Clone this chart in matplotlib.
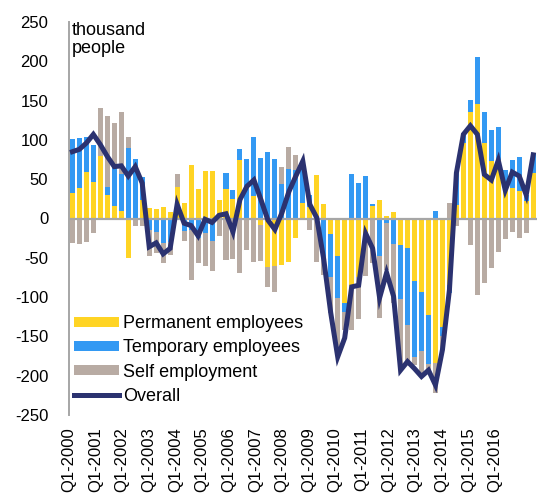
import matplotlib
matplotlib.use("Agg")
import matplotlib.pyplot as plt
import numpy as np
from matplotlib.patches import Patch
from matplotlib.lines import Line2D

plt.rcParams['font.family'] = ['Liberation Sans', 'DejaVu Sans']
plt.rcParams['axes.unicode_minus'] = False

# Quarterly data Q1-2000 .. Q3-2016 (thousand people)
quarters = [f"Q{q}-{y}" for y in range(2000, 2017) for q in range(1, 5)][:67]

permanent = [32, 39, 59, 46, 79, 30, 16, 9, -50, 0, 24, 13, 12, 14, 8, 40,
             20, 68, 37, 61, 61, 24, 37, 25, 75, 0, 28, -8, -62, -61, -59, -55,
             -25, 20, 15, 55, 19, -20, -48, -108, -87, -74, -20, 16, 24, 3, 8, -34,
             -38, -80, -93, -123, -184, -138, -85, 17, 96, 135, 146, 96, 73, 75, 39,
             39, 35, 22, 58]
temporary = [69, 64, 45, 48, 0, 10, 48, 47, 90, 76, 29, -14, -17, -31, -30, 0,
             -16, -14, -25, -19, -29, 0, 21, 11, 13, 76, 76, 77, 84, 76, 44, 63,
             62, 43, 15, 0, -50, -55, -53, -11, 56, 45, 54, 3, -48, -6, -33, -68,
             -98, -96, -76, -62, 10, -12, -10, 41, 10, 16, 59, 39, 40, 41, 23,
             36, 43, 8, 25]
self_employment = [-31, -33, -30, -19, 62, 90, 57, 80, 14, -10, -10, -34, -27, -26, -16, 17,
                   -13, -64, -32, -42, -38, -22, -53, -52, -69, -40, -55, -46, -25, -33, 21, 28,
                   19, 0, -14, -55, -22, -45, -70, -23, -55, -54, -53, -57, -79, -59, -75, -87,
                   -47, -10, -28, -11, -38, -17, 20, -9, 0, -34, -97, -82, -63, -42, -26,
                   -17, -25, -18, 0]
overall = [85, 88, 96, 107, 94, 79, 66, 67, 54, 66, 45, -36, -31, -45, -38, 18,
           -6, -9, -22, -1, -5, 4, 6, -17, 24, 41, 49, 24, -2, -14, 7, 34,
           54, 73, 18, 1, -52, -120, -176, -152, -87, -85, -19, -38, -101, -69, -99, -193,
           -182, -191, -201, -193, -212, -167, -91, 58, 107, 118, 107, 56, 49, 74, 36,
           59, 54, 30, 81]

tick_labels = [f"Q1-{y}" for y in range(2000, 2017)]

series_names = ["Permanent employees", "Temporary employees", "Self employment"]
colors = ["#FFD424", "#3399F3", "#B8ABA3"]
line_color = "#2B3270"

fig = plt.figure(figsize=(5.47, 4.97), dpi=100)
ax = fig.add_axes([69/547, 82/497, (536.7-69)/547, (415-22)/497])

x = np.arange(len(quarters))
pos_base = np.zeros(len(x))
neg_base = np.zeros(len(x))
for vals, col in zip([permanent, temporary, self_employment], colors):
    v = np.array(vals, dtype=float)
    bottom = np.where(v >= 0, pos_base, neg_base)
    ax.bar(x, v, bottom=bottom, width=0.72, color=col, linewidth=0, zorder=2)
    pos_base = pos_base + np.where(v >= 0, v, 0)
    neg_base = neg_base + np.where(v < 0, v, 0)

ax.axhline(0, color="#A6A6A6", lw=1.6, zorder=2.5)
ax.plot(x, overall, color=line_color, lw=3.6, zorder=3, solid_joinstyle='miter')

ax.set_xlim(-0.42, len(x) - 0.5)
ax.set_ylim(-250, 250)
ax.set_yticks(np.arange(-250, 251, 50))
ax.tick_params(axis='y', length=0, pad=15, labelsize=12)

tick_pos = [-0.486 + 3.813 * j for j in range(len(tick_labels))]
ax.set_xticks(tick_pos)
ax.set_xticklabels(tick_labels, rotation=90, fontsize=12)
ax.tick_params(axis='x', length=0, pad=9)

for s in ["top", "right", "bottom"]:
    ax.spines[s].set_visible(False)
ax.spines["left"].set_color("#A6A6A6")
ax.spines["left"].set_linewidth(1.4)

ax.text(0.006, 1.0, "thousand\npeople", transform=ax.transAxes, ha="left", va="top",
        fontsize=13, linespacing=1.05)

handles = [Patch(facecolor=c, edgecolor='none') for c in colors]
handles.append(Line2D([0], [0], color=line_color, lw=3.6))
leg = ax.legend(handles, series_names + ["Overall"], loc="lower left",
                bbox_to_anchor=(0.0, 0.012), frameon=False, fontsize=13,
                handlelength=2.45, handleheight=0.45, handletextpad=0.25,
                labelspacing=0.4, borderaxespad=0.0, borderpad=0.3)

fig.savefig("out.png", dpi=100)
